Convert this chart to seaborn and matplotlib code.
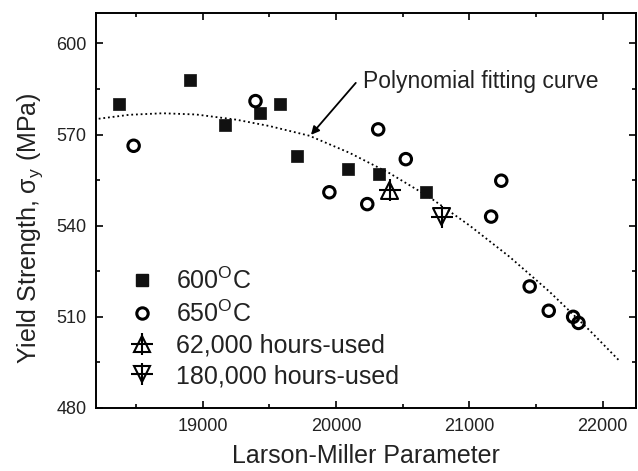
import matplotlib
matplotlib.use("Agg")
import matplotlib.pyplot as plt
import seaborn as sns
import pandas as pd
from matplotlib.lines import Line2D
from matplotlib.ticker import MultipleLocator

# values
lmp_600 = [18376, 18903, 19168, 19432, 19576, 19707, 20090, 20325, 20675]
ys_600 = [580, 588, 573, 577, 580, 563, 558.6, 557, 551]

lmp_650 = [18482, 19396, 19950, 20316, 20234, 20523, 21163, 21239, 21452, 21595, 21778, 21818]
ys_650 = [566.3, 581, 551, 571.7, 547.1, 561.9, 543, 554.8, 520, 512, 510, 508]

lmp_62k = [20401]
ys_62k = [551.6]
lmp_180k = [20791]
ys_180k = [543]

# points along the dotted polynomial fitting curve
fit_x = [18220, 18450, 18700, 18950, 19250, 19500, 19800, 20100, 20400,
         20700, 21000, 21300, 21600, 21900, 22130]
fit_y = [575.2, 576.5, 577.0, 576.6, 574.9, 572.8, 569.6, 564.0, 557.3,
         549.4, 540.1, 529.8, 518.3, 505.6, 495.3]

labels = ["600$^{\\mathrm{O}}$C", "650$^{\\mathrm{O}}$C",
          "62,000 hours-used", "180,000 hours-used"]

sns.set_theme(style="ticks")
plt.rcParams["font.family"] = ["Liberation Sans", "DejaVu Sans"]
plt.rcParams["mathtext.fontset"] = "custom"
plt.rcParams["mathtext.rm"] = "Liberation Sans"
plt.rcParams["mathtext.it"] = "Liberation Sans:italic"

fig = plt.figure(figsize=(6.38, 4.71), dpi=100)
ax = fig.add_axes([0.1505, 0.1338, 0.8465, 0.8386])

fit = pd.DataFrame({"x": fit_x, "y": fit_y})
sns.lineplot(data=fit, x="x", y="y", ax=ax, color="black", linestyle=(0, (1, 1.6)),
             linewidth=1.3)

sns.scatterplot(x=lmp_600, y=ys_600, ax=ax, marker="s", s=85, color="#111111",
                edgecolor="#111111", linewidth=0.5, zorder=3)
sns.scatterplot(x=lmp_650, y=ys_650, ax=ax, marker="o", s=68, facecolor="none",
                edgecolor="black", linewidth=2.2, zorder=3)
# hollow triangles crossed by a plus sign
sns.scatterplot(x=lmp_62k, y=ys_62k, ax=ax, marker="^", s=150, facecolor="none",
                edgecolor="black", linewidth=1.5, zorder=3)
sns.scatterplot(x=lmp_62k, y=ys_62k, ax=ax, marker="+", s=260, color="black",
                linewidth=1.5, zorder=3)
sns.scatterplot(x=lmp_180k, y=ys_180k, ax=ax, marker="v", s=150, facecolor="none",
                edgecolor="black", linewidth=1.5, zorder=3)
sns.scatterplot(x=lmp_180k, y=ys_180k, ax=ax, marker="+", s=260, color="black",
                linewidth=1.5, zorder=3)

ax.set_xlim(18200, 22250)
ax.set_ylim(480, 610)
ax.xaxis.set_major_locator(MultipleLocator(1000))
ax.xaxis.set_minor_locator(MultipleLocator(500))
ax.yaxis.set_major_locator(MultipleLocator(30))
ax.yaxis.set_minor_locator(MultipleLocator(15))
ax.tick_params(which="both", direction="in", top=True, right=True,
               labelsize=13, width=1.2, color="black", labelcolor="#222222")
ax.tick_params(which="major", length=5, pad=7)
ax.tick_params(which="minor", length=3)
for sp in ax.spines.values():
    sp.set_linewidth(1.4)
    sp.set_color("black")

ax.set_xlabel("Larson-Miller Parameter", fontsize=18, color="#222222")
ax.set_ylabel("Yield Strength, σ$_{\\mathrm{y}}$ (MPa)", fontsize=18, color="#222222")
ax.xaxis.set_label_coords(0.5, -0.09)
ax.yaxis.set_label_coords(-0.095, 0.455)

ax.text(20205, 587.6, "Polynomial fitting curve", fontsize=16.5, va="center",
        ha="left", color="#222222")
ax.annotate("", xy=(19812, 569.9), xytext=(20148, 587.0),
            arrowprops=dict(arrowstyle="-|>", color="black", lw=1.3,
                            shrinkA=0, shrinkB=0, mutation_scale=12))

handles = [
    Line2D([], [], ls="none", marker="s", ms=9.2, color="#111111"),
    Line2D([], [], ls="none", marker="o", ms=8.2, mfc="none", mec="black", mew=2.2),
    (Line2D([], [], ls="none", marker="^", ms=12, mfc="none", mec="black", mew=1.5),
     Line2D([], [], ls="none", marker="+", ms=16, color="black", mew=1.5)),
    (Line2D([], [], ls="none", marker="v", ms=12, mfc="none", mec="black", mew=1.5),
     Line2D([], [], ls="none", marker="+", ms=16, color="black", mew=1.5)),
]
ax.legend(handles, labels, loc="lower left", bbox_to_anchor=(0.062, 0.05),
          frameon=False, fontsize=18, handlelength=1.0, handletextpad=0.85,
          labelspacing=0.27, borderpad=0, borderaxespad=0, labelcolor="#222222")

fig.savefig("out.png", dpi=100)
